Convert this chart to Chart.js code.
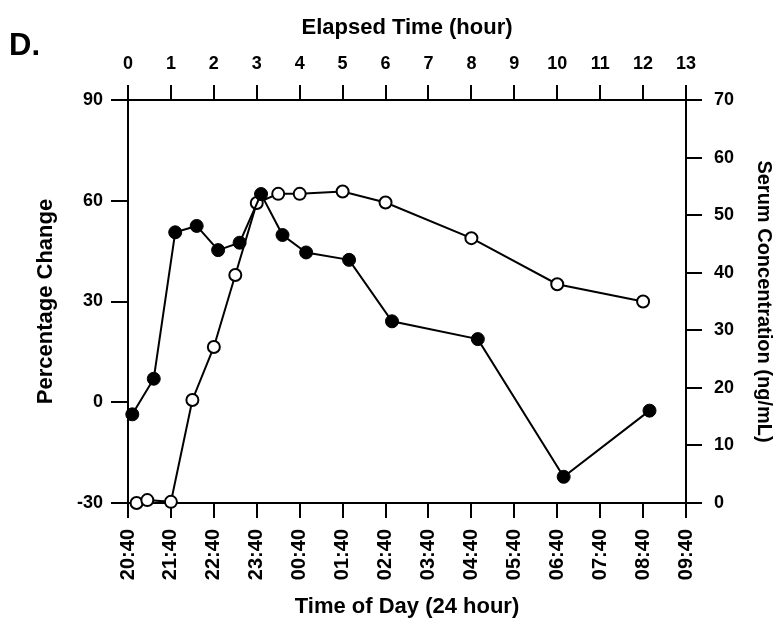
<!DOCTYPE html>
<html><head><meta charset="utf-8">
<script src="https://cdn.jsdelivr.net/npm/chart.js@4"></script>
<style>
html,body{margin:0;padding:0;background:#fff;}
#wrap{position:relative;width:776px;height:621px;}
#panel{position:absolute;left:9px;top:29px;font:bold 31px "Liberation Sans",Arial,sans-serif;line-height:32px;color:#000;}
</style></head><body>
<div id="wrap"><canvas id="c"></canvas><div id="panel">D.</div></div>
<script>
// Elapsed-time axis (top) and time-of-day axis (bottom)
const elapsedTicks = [0,1,2,3,4,5,6,7,8,9,10,11,12,13];
const timeLabels = ['20:40','21:40','22:40','23:40','00:40','01:40','02:40','03:40','04:40','05:40','06:40','07:40','08:40','09:40'];
// Filled circles: percentage change (left axis)
const pctHours  = [0.1, 0.6, 1.1, 1.6, 2.1, 2.6, 3.1, 3.6, 4.15, 5.15, 6.15, 8.15, 10.15, 12.15];
const pctChange = [-3.6, 7, 50.6, 52.5, 45.3, 47.5, 62, 49.8, 44.6, 42.4, 24.1, 18.8, -22.2, -2.5];
// Open circles: serum concentration (right axis)
const serumHours = [0.2, 0.45, 1, 1.5, 2, 2.5, 3, 3.5, 4, 5, 6, 8, 10, 12];
const serumConc  = [0, 0.5, 0.2, 17.9, 27.1, 39.6, 52.1, 53.7, 53.7, 54.1, 52.2, 46, 38, 35];
// Vertical axis ranges
const pctRange = [-30, 90];
const serumRange = [0, 70];

Chart.defaults.font.family = '"Liberation Sans", Arial, sans-serif';
Chart.defaults.font.weight = 'bold';
Chart.defaults.color = '#000';

const pts = (xs, ys) => xs.map((x, i) => ({x, y: ys[i]}));
const axisCommon = (tickLen) => ({
  border: {display: true, color: '#000', width: 2},
  grid: {drawOnChartArea: false, drawTicks: true, tickLength: tickLen, color: '#000', lineWidth: 2}
});
const titleFont = {size: 22, weight: 'bold', lineHeight: 1.2};

new Chart(document.getElementById('c'), {
  type: 'scatter',
  data: {
    datasets: [
      {
        label: 'Percentage Change',
        data: pts(pctHours, pctChange),
        xAxisID: 'x', yAxisID: 'y',
        showLine: true, tension: 0,
        borderColor: '#000', borderWidth: 2,
        pointRadius: 6.5, pointBackgroundColor: '#000', pointBorderColor: '#000', pointBorderWidth: 1,
        clip: false
      },
      {
        label: 'Serum Concentration',
        data: pts(serumHours, serumConc),
        xAxisID: 'x', yAxisID: 'y2',
        showLine: true, tension: 0,
        borderColor: '#000', borderWidth: 2,
        pointRadius: 6, pointBackgroundColor: '#fff', pointBorderColor: '#000', pointBorderWidth: 2,
        clip: false
      }
    ]
  },
  options: {
    responsive: true, maintainAspectRatio: false, animation: false,
    layout: {padding: 0},
    plugins: {legend: {display: false}, tooltip: {enabled: false}},
    scales: {
      x: Object.assign(axisCommon(15), {
        type: 'linear', position: 'bottom',
        min: elapsedTicks[0], max: elapsedTicks[elapsedTicks.length - 1],
        afterBuildTicks: s => { s.ticks = elapsedTicks.map(v => ({value: v})); },
        ticks: {autoSkip: false, minRotation: 90, maxRotation: 90, padding: 11,
                font: {size: 20, weight: 'bold'},
                callback: v => timeLabels[elapsedTicks.indexOf(v)]},
        title: {display: true, text: 'Time of Day (24 hour)', font: titleFont, padding: {top: 0, bottom: 1}},
        afterFit: s => { s.height = 118; }
      }),
      x2: Object.assign(axisCommon(15), {
        type: 'linear', position: 'top',
        min: elapsedTicks[0], max: elapsedTicks[elapsedTicks.length - 1],
        afterBuildTicks: s => { s.ticks = elapsedTicks.map(v => ({value: v})); },
        ticks: {autoSkip: false, maxRotation: 0, padding: 10, font: {size: 18, weight: 'bold'}},
        title: {display: true, text: 'Elapsed Time (hour)', font: titleFont, padding: {top: 15, bottom: 0}},
        afterFit: s => { s.height = 100; }
      }),
      y: Object.assign(axisCommon(17), {
        position: 'left', min: pctRange[0], max: pctRange[1],
        ticks: {stepSize: 30, padding: 8, font: {size: 18, weight: 'bold'}},
        title: {display: true, text: 'Percentage Change', font: titleFont, padding: {top: 33, bottom: 0}},
        afterFit: s => { s.width = 128; }
      }),
      y2: Object.assign(axisCommon(16), {
        position: 'right', min: serumRange[0], max: serumRange[1],
        ticks: {stepSize: 10, padding: 12, font: {size: 18, weight: 'bold'}},
        title: {display: true, text: 'Serum Concentration (ng/mL)', font: {size: 20, weight: 'bold', lineHeight: 1.2}, padding: {top: 0, bottom: 0}},
        afterFit: s => { s.width = 90; }
      })
    }
  }
});
</script>
</body></html>
